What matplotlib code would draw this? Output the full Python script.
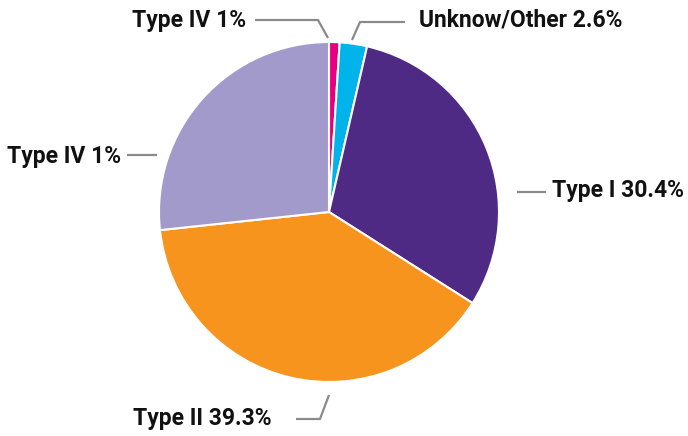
import matplotlib
matplotlib.use("Agg")
import matplotlib.pyplot as plt

labels = ["Type IV 1%", "Unknow/Other 2.6%", "Type I 30.4%", "Type II 39.3%", "Type IV 1%"]
values = [1.0, 2.6, 30.4, 39.3, 26.7]
colors = ["#E6007E", "#00B4EB", "#4E2A84", "#F7941E", "#A19ACA"]

W, H = 688, 436
fig = plt.figure(figsize=(W / 100, H / 100), dpi=100)
ax = fig.add_axes([0, 0, 1, 1])
ax.set_xlim(0, W)
ax.set_ylim(0, H)
ax.set_aspect("equal")
ax.axis("off")

cx, cy, r = 329, H - 212, 170
ax.pie(values, colors=colors, startangle=90, counterclock=False,
       center=(cx, cy), radius=r,
       wedgeprops=dict(edgecolor="white", linewidth=1.5))
ax.set_xlim(0, W)
ax.set_ylim(0, H)

def Y(y):
    return H - y

line_kw = dict(color="#8a8a8a", lw=1.6, solid_capstyle="butt")
# leader lines (layout)
leaders = [
    [(255, 20), (318, 20), (328, 38)],
    [(352, 40), (360, 22), (405, 22)],
    [(517, 192), (546, 192)],
    [(296, 419), (320, 419), (329, 395)],
    [(127, 155), (157, 155)],
]
for pts in leaders:
    ax.plot([p[0] for p in pts], [Y(p[1]) for p in pts], **line_kw)

text_pos = [
    (246, 20, "right"),
    (419, 20, "left"),
    (552, 190, "left"),
    (133, 418, "left"),
    (121, 156, "right"),
]
font = dict(family=["Roboto", "DejaVu Sans"], fontweight="bold", fontsize=16.5, color="#111111")
for lab, (x, y, ha) in zip(labels, text_pos):
    ax.text(x, Y(y), lab, ha=ha, va="center", **font)

fig.savefig("out.png", dpi=100, facecolor="white")
